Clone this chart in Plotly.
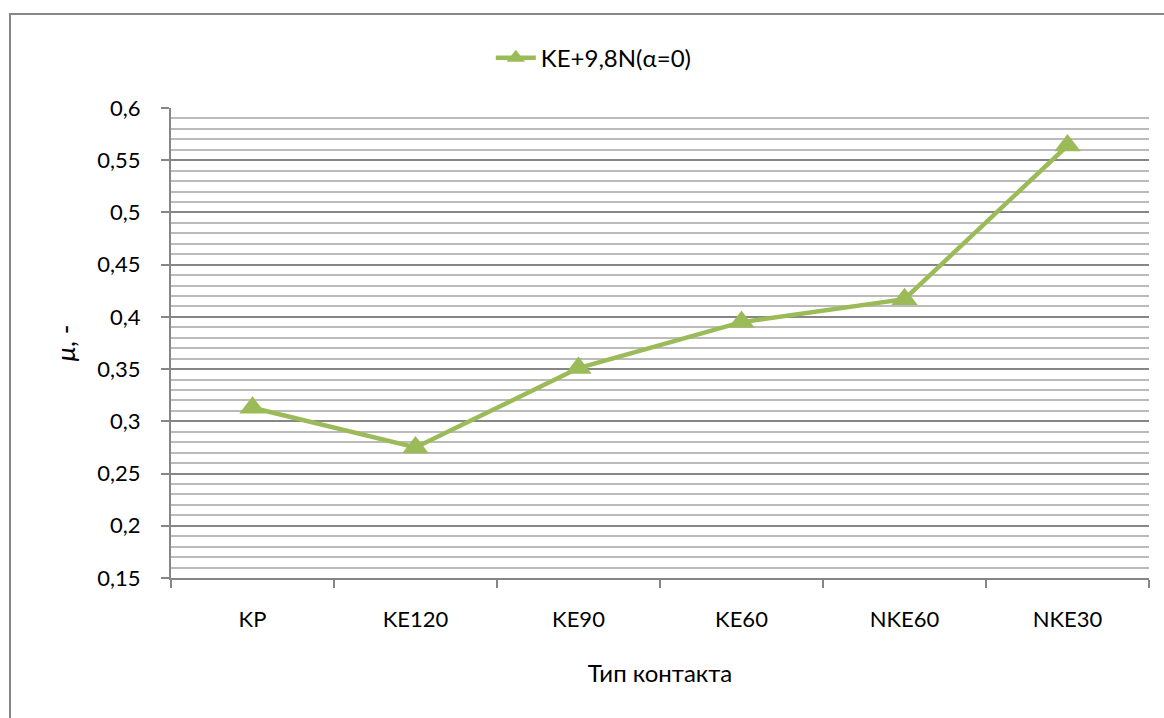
import plotly.graph_objects as go

# Contact types and measured friction coefficient
contact_types = ["KP", "KE120", "KE90", "KE60", "NKE60", "NKE30"]
mu_values = [0.313, 0.275, 0.351, 0.395, 0.417, 0.564]
series_name = "KE+9,8N(α=0)"

y_tick_vals = [0.15, 0.2, 0.25, 0.3, 0.35, 0.4, 0.45, 0.5, 0.55, 0.6]
y_tick_text = ["0,15", "0,2", "0,25", "0,3", "0,35", "0,4", "0,45", "0,5", "0,55", "0,6"]

GREEN = "#9BBB59"
AXIS_GREY = "#868686"
MINOR_GREY = "#BBBBBB"
FONT = "Lato"

fig = go.Figure()
fig.add_trace(go.Scatter(
    x=contact_types,
    y=mu_values,
    mode="lines+markers",
    name=series_name,
    line=dict(color=GREEN, width=4.5),
    marker=dict(symbol="triangle-up", size=23, color=GREEN),
))

fig.update_layout(
    width=1164,
    height=718,
    margin=dict(l=171, r=15, t=108, b=140),
    paper_bgcolor="white",
    plot_bgcolor="white",
    font=dict(family=FONT, size=22, color="black"),
    showlegend=True,
    legend=dict(
        orientation="h",
        x=0.327, xanchor="left",
        y=1.106, yanchor="middle",
        font=dict(family=FONT, size=24, color="black"),
        itemwidth=40,
        bgcolor="rgba(0,0,0,0)",
    ),
    xaxis=dict(
        type="category",
        range=[-0.5, len(contact_types) - 0.5],
        showgrid=False,
        showline=True,
        linecolor=AXIS_GREY,
        linewidth=2,
        ticks="outside",
        tickson="boundaries",
        ticklen=8,
        tickwidth=2,
        tickcolor=AXIS_GREY,
        ticklabelstandoff=21,
        tickfont=dict(family=FONT, size=22),
        title=dict(text="Тип контакта", font=dict(family=FONT, size=24), standoff=34),
        zeroline=False,
    ),
    yaxis=dict(
        range=[0.15, 0.6],
        tickvals=y_tick_vals,
        ticktext=y_tick_text,
        showgrid=True,
        gridcolor=AXIS_GREY,
        gridwidth=2,
        showline=True,
        linecolor=AXIS_GREY,
        linewidth=2,
        ticks="outside",
        ticklen=8,
        tickwidth=2,
        tickcolor=AXIS_GREY,
        ticklabelstandoff=16,
        tickfont=dict(family=FONT, size=22),
        minor=dict(dtick=0.01, tick0=0.15, showgrid=True, gridcolor=MINOR_GREY, gridwidth=1.5),
        title=dict(text="<i>μ</i>, -", font=dict(family=FONT, size=26), standoff=14),
        zeroline=False,
    ),
)

# Outer chart frame
fig.add_shape(
    type="rect", xref="paper", yref="paper",
    x0=-161 / 978, x1=1.2, y0=-0.6, y1=(578 - 14) / 470,
    line=dict(color=AXIS_GREY, width=2),
    fillcolor="rgba(0,0,0,0)",
    layer="below",
)

fig.write_html("out.html")
